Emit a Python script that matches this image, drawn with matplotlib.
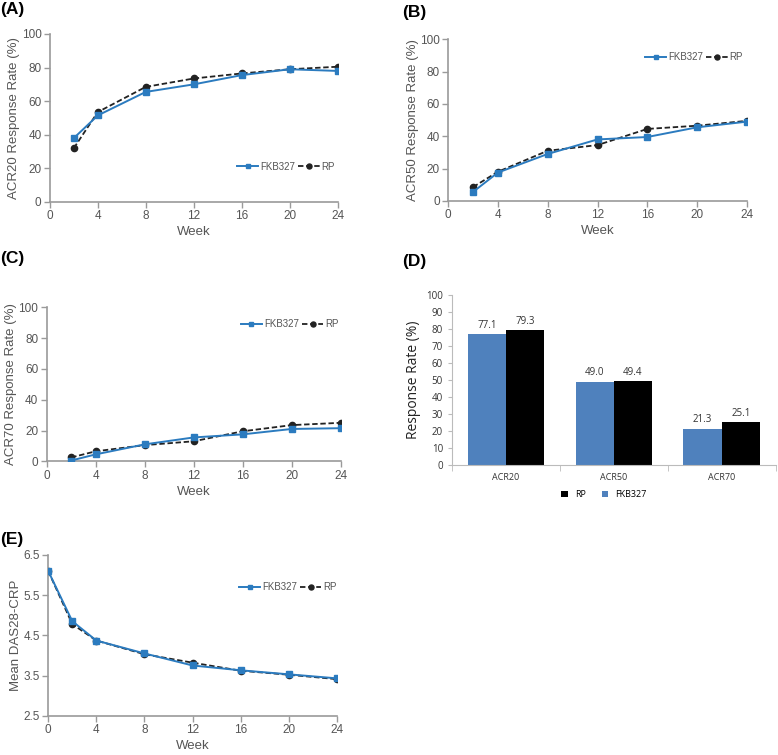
import numpy as np
import matplotlib
matplotlib.use('Agg')
from matplotlib import pyplot as plt

plt.rcParams['font.family'] = ['Liberation Sans', 'DejaVu Sans']

weeks = [2, 4, 8, 12, 16, 20, 24]
acr20_fkb = [38, 51.5, 65.5, 70, 75.5, 79, 78]
acr20_rp = [32, 53.5, 68.5, 73.5, 76.5, 79, 80.5]
acr50_fkb = [5.5, 17.5, 29, 38, 39.5, 45.5, 49]
acr50_rp = [8.5, 18, 31, 34.5, 44.5, 46.5, 49.5]
acr70_fkb = [0.5, 4.5, 11, 15.5, 17.5, 21, 21.5]
acr70_rp = [2.5, 6.5, 10.5, 13, 19.5, 23.5, 25]

das_weeks = [0, 2, 4, 8, 12, 16, 20, 24]
das_fkb = [6.1, 4.85, 4.37, 4.05, 3.75, 3.63, 3.53, 3.43]
das_rp = [6.1, 4.78, 4.37, 4.03, 3.82, 3.62, 3.52, 3.41]

wk24_cats = ['ACR20', 'ACR50', 'ACR70']
wk24_fkb = [77.1, 49.0, 21.3]
wk24_rp = [79.3, 49.4, 25.1]

blue = '#2b7bbf'
gray = '#9a9a9a'
txt = '#555555'

fig = plt.figure(figsize=(7.78, 7.55), dpi=100)


def line_panel(rect, x, fkb, rp, ylim, yticks, ylabel, legend_at):
    ax = fig.add_axes(rect)
    ax.plot(x, rp, color='#222222', ls=(0, (3, 1.5)), lw=1.3, marker='o', ms=4.5, label='RP', zorder=2)
    ax.plot(x, fkb, color=blue, lw=1.4, marker='s', ms=4, label='FKB327', zorder=3)
    ax.set_xlim(0, 24)
    ax.set_xticks([0, 4, 8, 12, 16, 20, 24])
    ax.set_ylim(*ylim)
    ax.set_yticks(yticks)
    for s in ['top', 'right']:
        ax.spines[s].set_visible(False)
    for s in ['left', 'bottom']:
        ax.spines[s].set_color(gray)
        ax.spines[s].set_linewidth(1.2)
    ax.tick_params(colors=gray, labelcolor=txt, labelsize=8.5, length=4, width=1, pad=2)
    ax.set_xlabel('Week', color=txt, fontsize=9.5, labelpad=3)
    ax.set_ylabel(ylabel, color=txt, fontsize=9.5, labelpad=1)
    h, l = ax.get_legend_handles_labels()
    ax.legend(h[::-1], l[::-1], ncol=2, frameon=False, fontsize=7, loc='center left',
              bbox_to_anchor=legend_at, handlelength=2.2, handletextpad=0.2,
              columnspacing=0.3, labelcolor=txt, markerscale=0.8)
    return ax


line_panel([0.064, 0.7325, 0.370, 0.2225], weeks, acr20_fkb, acr20_rp, (0, 100),
           range(0, 101, 20), 'ACR20 Response Rate (%)', (0.62, 0.21))
line_panel([0.576, 0.734, 0.384, 0.214], weeks, acr50_fkb, acr50_rp, (0, 100),
           range(0, 101, 20), 'ACR50 Response Rate (%)', (0.63, 0.89))
line_panel([0.060, 0.389, 0.378, 0.204], weeks, acr70_fkb, acr70_rp, (0, 100),
           range(0, 101, 20), 'ACR70 Response Rate (%)', (0.63, 0.89))
line_panel([0.062, 0.052, 0.371, 0.213], das_weeks, das_fkb, das_rp, (2.5, 6.5),
           [2.5, 3.5, 4.5, 5.5, 6.5], 'Mean DAS28-CRP', (0.63, 0.8))

# panel D: week 24 bars
axd = fig.add_axes([0.581, 0.384, 0.416, 0.225])
xpos = np.arange(len(wk24_cats))
w = 0.355
b1 = axd.bar(xpos - w / 2, wk24_fkb, w, color='#4f81bd', label='FKB327')
b2 = axd.bar(xpos + w / 2, wk24_rp, w, color='black', label='RP')
for bars, vals in [(b1, wk24_fkb), (b2, wk24_rp)]:
    for r, v in zip(bars, vals):
        axd.text(r.get_x() + r.get_width() / 2, v + 2, f'{v:.1f}', ha='center', va='bottom',
                 fontsize=7, color='#333333', family='Open Sans')
axd.set_xlim(-0.5, 2.5)
axd.set_ylim(0, 100)
axd.set_yticks(range(0, 101, 10))
axd.set_xticks(xpos)
axd.set_xticklabels(wk24_cats, fontsize=6.5, family='Open Sans', color='#333333')
axd.set_xticks([-0.5, 0.5, 1.5, 2.5], minor=True)
axd.tick_params(axis='x', which='major', length=0, pad=6)
axd.tick_params(axis='x', which='minor', length=4, color='#bbbbbb')
axd.tick_params(axis='y', labelsize=7, color='#bbbbbb', length=3, labelcolor='#333333')
for lab in axd.get_yticklabels():
    lab.set_family('Open Sans')
for s in ['top', 'right']:
    axd.spines[s].set_visible(False)
axd.spines['left'].set_color('#bbbbbb')
axd.spines['bottom'].set_color('#bbbbbb')
axd.set_ylabel('Response Rate (%)', fontsize=10, family='Open Sans', color='#222222', labelpad=4)
axd.legend([b2, b1], ['RP', 'FKB327'], ncol=2, frameon=False,
           loc='upper center', bbox_to_anchor=(0.47, -0.1), handlelength=0.7,
           handleheight=0.7, columnspacing=1.8, prop={'family': 'Open Sans', 'size': 6.5})

# panel letters
for x, y, s in [(0.0, 0.987, '(A)'), (0.517, 0.984, '(B)'), (0.0, 0.658, '(C)'),
                (0.517, 0.653, '(D)'), (0.0, 0.285, '(E)')]:
    fig.text(x, y, s, fontsize=12.5, fontweight='bold', va='center', ha='left')

fig.savefig('out.png', dpi=100)
